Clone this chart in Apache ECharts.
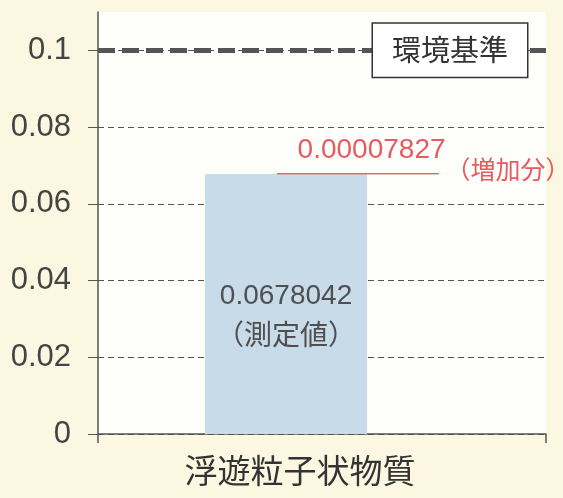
<!DOCTYPE html>
<html lang="ja">
<head>
  <meta http-equiv="Content-Type" content="text/html; charset=UTF-8">
  <title>浮遊粒子状物質</title>
  <style>
    html, body { margin: 0; padding: 0; background: #fbf7e1; }
  </style>
</head>
<body>
  <div id="chart" style="width: 563px; height: 498px;"></div>
  <script src="https://cdn.jsdelivr.net/npm/echarts@6/dist/echarts.min.js"></script>
  <script>
    // データ
    const categories = ['浮遊粒子状物質'];
    const measured = [0.0678042];   // 測定値
    const increment = [0.00007827]; // 増加分
    const standard = 0.1;           // 環境基準

    const latin = '"Liberation Sans", Arial, "Noto Sans CJK JP", sans-serif';
    const cjk = '"Noto Sans CJK JP", sans-serif';
    const red = '#e65a60';

    const myChart = echarts.init(document.getElementById('chart'));
    const option = {
      animation: false,
      backgroundColor: '#fbf7e1',
      grid: {
        left: 98,
        right: 17,
        top: 12,
        bottom: 64,
        show: true,
        backgroundColor: '#fefefb',
        borderWidth: 0,
      },
      xAxis: {
        type: 'category',
        data: categories,
        axisLine: { lineStyle: { color: '#555', width: 1.5 } },
        axisTick: { show: true, length: 9, lineStyle: { color: '#555', width: 1.5 } },
        axisLabel: {
          margin: 20,
          fontSize: 33,
          color: '#333',
          fontFamily: cjk,
          padding: [0, 44, 0, 0],
        },
      },
      yAxis: {
        type: 'value',
        min: 0,
        max: 0.11,
        interval: 0.02,
        axisLine: { show: true, lineStyle: { color: '#555', width: 1.5 } },
        axisTick: { show: true, length: 10, lineStyle: { color: '#555', width: 1 } },
        axisLabel: {
          margin: 27,
          fontSize: 31,
          color: '#444',
          fontFamily: latin,
          showMaxLabel: false,
        },
        splitLine: {
          show: true,
          showMaxLine: false,
          lineStyle: { color: '#555', width: 1, type: [6, 4] },
        },
      },
      series: [{
        name: '測定値',
        type: 'bar',
        stack: 'a',
        barWidth: 162,
        barGap: '-55.6%',
        data: measured,
        itemStyle: { color: '#c7dbe9' },
        label: {
          show: true,
          position: 'inside',
          offset: [0, 13],
          fontSize: 28,
          lineHeight: 41,
          color: '#4f4f4f',
          fontFamily: latin,
          formatter: (p) => p.value + '\n（測定値）',
        },
        markLine: {
          silent: true,
          symbol: 'none',
          data: [{ yAxis: standard }],
          lineStyle: { color: '#555', width: 5, type: [17, 7] },
          label: {
            show: true,
            position: 'end',
            distance: 0,
            offset: [-173, 0],
            formatter: '環境基準',
            fontSize: 29,
            fontFamily: cjk,
            color: '#333',
            backgroundColor: '#fff',
            borderColor: '#333',
            borderWidth: 1.5,
            padding: [12, 19],
          },
        },
      }, {
        name: 'base',
        type: 'bar',
        stack: 'b',
        barWidth: 162,
        barGap: '-55.6%',
        data: measured,
        itemStyle: { color: 'transparent' },
        silent: true,
      }, {
        name: '増加分',
        type: 'bar',
        stack: 'b',
        barWidth: 162,
        barGap: '-55.6%',
        data: increment,
        itemStyle: { color: red, borderColor: red, borderWidth: 1 },
        label: {
          show: true,
          position: [21, -37],
          formatter: (p) => '{a|' + p.value.toFixed(8) + '}{b|（増加分）}',
          rich: {
            a: { fontSize: 28, color: red, fontFamily: latin, verticalAlign: 'top', lineHeight: 31 },
            b: { fontSize: 25, color: red, fontFamily: cjk, verticalAlign: 'top', lineHeight: 26, padding: [21, 0, 0, 0] },
          },
        },
      }]
    };
    myChart.setOption(option);
  </script>
</body>
</html>
